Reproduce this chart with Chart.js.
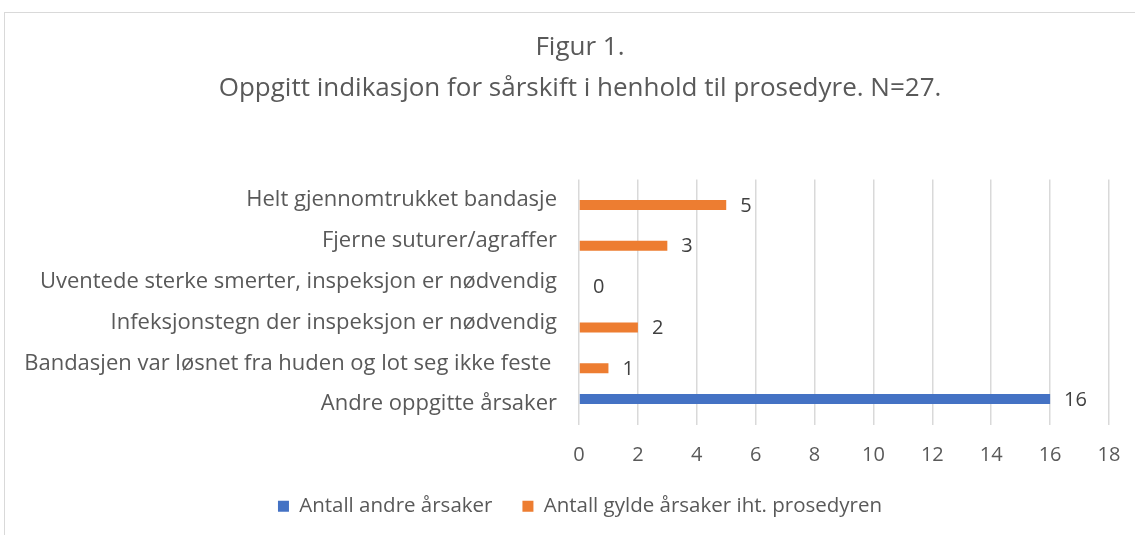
<!DOCTYPE html>
<html>
<head>
<meta charset="utf-8">
<script src="https://cdn.jsdelivr.net/npm/chart.js@4/dist/chart.umd.min.js"></script>
<style>
  html, body { margin: 0; padding: 0; background: #fff; overflow: hidden; }
  #box { position: absolute; left: 4px; top: 12px; width: 1150px; height: 540px; border: 1px solid #d9d9d9; }
</style>
</head>
<body>
<div id="box"><canvas id="chart" width="1150" height="540"></canvas></div>
<script>
// kategorier, ovenfra og ned
const categories = [
  "Helt gjennomtrukket bandasje",
  "Fjerne suturer/agraffer",
  "Uventede sterke smerter, inspeksjon er nødvendig",
  "Infeksjonstegn der inspeksjon er nødvendig",
  "Bandasjen var løsnet fra huden og lot seg ikke feste ",
  "Andre oppgitte årsaker"
];
const andreAarsaker = [null, null, null, null, null, 16];
const gyldeAarsaker = [5, 3, 0, 2, 1, null];
const seriesNames = ["Antall andre årsaker", "Antall gylde årsaker iht. prosedyren"];
const titleLines = ["Figur 1.", "Oppgitt indikasjon for sårskift i henhold til prosedyre. N=27."];

const FONT = "Open Sans";
const GREY = "#595959";

// tall ved enden av hver søyle
const valueLabels = {
  id: "valueLabels",
  afterDatasetsDraw(chart) {
    const ctx = chart.ctx;
    ctx.save();
    ctx.font = "20px '" + FONT + "'";
    ctx.fillStyle = "#404040";
    ctx.textAlign = "left";
    ctx.textBaseline = "middle";
    chart.data.datasets.forEach((ds, i) => {
      const meta = chart.getDatasetMeta(i);
      meta.data.forEach((bar, j) => {
        const v = ds.data[j];
        if (v === null) return;
        ctx.fillText(String(v), bar.x + 14, bar.y + 1);
      });
    });
    ctx.restore();
  }
};

// legenden ligger tettere inntil aksen enn chart.js vil plassere den
const legendUp = {
  id: "legendUp",
  afterLayout(chart) {
    chart.legend.top -= 26.5;
    chart.legend.bottom -= 26.5;
  }
};

new Chart(document.getElementById("chart"), {
  type: "bar",
  data: {
    labels: categories,
    datasets: [
      { label: seriesNames[0], data: andreAarsaker, backgroundColor: "#4472C4" },
      { label: seriesNames[1], data: gyldeAarsaker, backgroundColor: "#ED7D31" }
    ]
  },
  options: {
    responsive: false,
    animation: false,
    indexAxis: "y",
    categoryPercentage: 0.49,
    barPercentage: 1.0,
    layout: { padding: 0 },
    scales: {
      x: {
        min: 0, max: 18,
        ticks: { stepSize: 2, color: GREY, font: { family: FONT, size: 20 }, padding: 19 },
        grid: { color: "#d9d9d9", lineWidth: 1.5, drawTicks: false },
        border: { display: false },
        afterFit(scale) { scale.height = 68; scale.paddingRight = 46; }
      },
      y: {
        ticks: { color: GREY, font: { family: FONT, size: 22 }, padding: 14 },
        grid: { display: false },
        border: { display: false },
        afterFit(scale) { scale.width = 574; }
      }
    },
    plugins: {
      title: {
        display: true,
        text: titleLines,
        color: GREY,
        font: { family: FONT, size: 26, weight: "normal", lineHeight: 1.577 },
        padding: { top: 14.5, bottom: 70 }
      },
      legend: {
        position: "bottom",
        labels: {
          color: GREY,
          font: { family: FONT, size: 20.5 },
          boxWidth: 11, boxHeight: 11,
          padding: 30
        }
      },
      tooltip: { enabled: false }
    }
  },
  plugins: [valueLabels, legendUp]
});
</script>
</body>
</html>
